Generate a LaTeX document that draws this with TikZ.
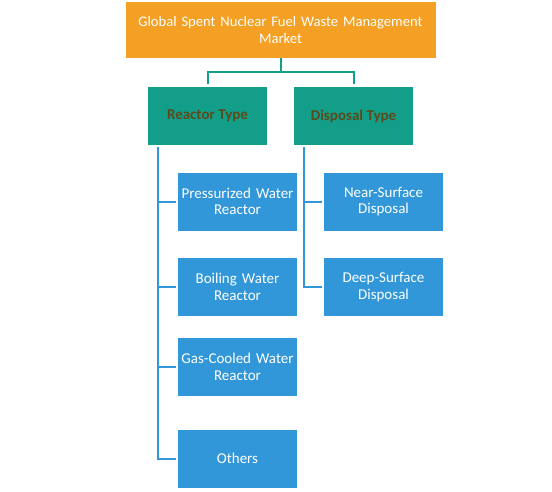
\documentclass[tikz,border=0pt]{standalone}
\usepackage{fontspec}
\setmainfont{Carlito}
\definecolor{orangebox}{HTML}{F4A024}
\definecolor{tealbox}{HTML}{139E89}
\definecolor{bluebox}{HTML}{3197D9}
\definecolor{brownt}{HTML}{5C4A1C}
\begin{document}
\begin{tikzpicture}[x=1pt,y=-1pt,
  topbox/.style={fill=orangebox,text=white,minimum width=310pt,minimum height=56pt,inner sep=0pt,font=\fontsize{14.6}{16.5}\selectfont,align=center,text width=305pt},
  catbox/.style={fill=tealbox,text=brownt,minimum width=119pt,minimum height=58pt,inner sep=0pt,font=\fontsize{15}{17}\selectfont\bfseries,align=center},
  leafbox/.style={fill=bluebox,text=white,minimum width=119pt,minimum height=58pt,inner sep=0pt,font=\fontsize{15}{16.5}\selectfont,align=center,text width=117pt},
  tealline/.style={draw=tealbox,line width=2pt},
  blueline/.style={draw=bluebox,line width=2pt}]
\useasboundingbox (0,0) rectangle (552,491);
\node[topbox] (top) at (280.5,30) {Global Spent Nuclear Fuel Waste Management\\Market};
\node[catbox] (reactor) at (207.5,116) {Reactor Type};
\node[catbox] (disposal) at (353.5,116) {Disposal Type};
\node[leafbox] (pwr) at (237.5,201.5) {Pressurized Water\\Reactor};
\node[leafbox] (bwr) at (237.5,287) {Boiling Water\\Reactor};
\node[leafbox] (gcr) at (237.5,367) {Gas-Cooled Water\\Reactor};
\node[leafbox] (oth) at (237.5,458.5) {Others};
\node[leafbox] (near) at (383.5,201.5) {Near-Surface\\Disposal};
\node[leafbox] (deep) at (383.5,287) {Deep-Surface\\Disposal};
\coordinate (mid) at (280.5,72);
\draw[tealline] (top.south) -- (mid);
\draw[tealline,shorten >=3pt] (mid) -| (reactor.north);
\draw[tealline,shorten >=3pt] (mid) -| (disposal.north);
\coordinate (rl) at (158,147);
\coordinate (dl) at (304,147);
\draw[blueline] (rl) |- ([xshift=-2pt]oth.west);
\draw[blueline] (rl |- pwr.west) -- ([xshift=-2pt]pwr.west);
\draw[blueline] (rl |- bwr.west) -- ([xshift=-2pt]bwr.west);
\draw[blueline] (rl |- gcr.west) -- ([xshift=-2pt]gcr.west);
\draw[blueline] (dl) |- ([xshift=-2pt]deep.west);
\draw[blueline] (dl |- near.west) -- ([xshift=-2pt]near.west);
\end{tikzpicture}
\end{document}
